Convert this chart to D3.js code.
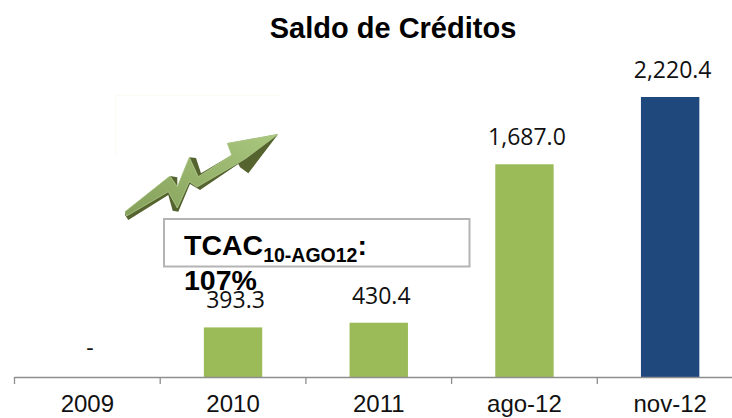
<!DOCTYPE html>
<html><head><meta charset="utf-8">
<script src="https://cdnjs.cloudflare.com/ajax/libs/d3/7.8.5/d3.min.js"></script>
<style>html,body{margin:0;padding:0;background:#fff}svg{display:block}</style>
</head><body><svg id="c" width="732" height="418"></svg>
<script>
const categories = ["2009","2010","2011","ago-12","nov-12"];
const values = [0,393.3,430.4,1687.0,2220.4];
const valueLabels = ["-","393.3","430.4","1,687.0","2,220.4"];
const barColors = ["#9BBB59","#9BBB59","#9BBB59","#9BBB59","#1F497D"];
const title = "Saldo de Créditos";
const arrowOutline = [[125,211.7],[170,176],[177.3,177.3],[177.3,186.7],[189.3,157.3],[196,158],[201,173.3],[231.7,155],[227.3,143.3],[278.3,134],[248.3,173.3],[240,167.3],[238.3,164],[200,190],[190,184],[178.3,211.7],[172.7,210.7],[168.3,195],[128.3,220],[125,215]];
const arrowFace = [[125,211.7],[170,176],[177.3,186.7],[189.3,157.3],[198.3,176.7],[231.7,155],[227.3,143.3],[278,134.3],[246,158.3],[238.3,163],[197,187],[189.3,181.7],[177.3,208],[168.3,191.7],[126.7,216]];

const svg = d3.select("#c");
const xTicks = d3.scaleBand().domain(categories).range([14.5,743]);
const y = d3.scaleLinear().domain([0,2220.4]).range([377,97]);
const cx = d => xTicks(d)+xTicks.bandwidth()/2;

svg.append("text").attr("x",393).attr("y",38).attr("text-anchor","middle")
  .attr("font-family","Liberation Sans").attr("font-weight","bold").attr("font-size",29).attr("fill","#000").text(title);

svg.selectAll("rect.bar").data(values).join("rect").attr("class","bar")
  .attr("x",(d,i)=>cx(categories[i])-29.2).attr("width",58.4)
  .attr("y",d=>y(d)).attr("height",d=>y(0)-y(d)).attr("fill",(d,i)=>barColors[i]);

svg.append("line").attr("x1",14.5).attr("x2",732).attr("y1",377.5).attr("y2",377.5).attr("stroke","#8e8e8e").attr("stroke-width",1.5);
svg.selectAll("line.tick").data(categories).join("line").attr("class","tick")
  .attr("x1",d=>xTicks(d)).attr("x2",d=>xTicks(d)).attr("y1",377).attr("y2",384).attr("stroke","#8e8e8e").attr("stroke-width",1.3);

svg.selectAll("text.cat").data(categories).join("text").attr("class","cat")
  .attr("x",d=>cx(d)).attr("y",412).attr("text-anchor","middle")
  .attr("font-family","Liberation Sans").attr("font-size",24).attr("fill","#111").text(d=>d);

// decorative rising arrow
svg.append("path").attr("d","M115.5,155V95.5H280").attr("fill","none").attr("stroke","#fafcf2");
const line = d3.line();
svg.append("path").attr("d",line(arrowOutline)+"Z").attr("fill","#55632f");
const g = svg.append("defs").append("linearGradient").attr("id","ag").attr("x1","0").attr("y1","1").attr("x2","1").attr("y2","0");
g.append("stop").attr("offset","0").attr("stop-color","#84a05a");
g.append("stop").attr("offset","1").attr("stop-color","#aac77e");
svg.append("path").attr("d",line(arrowFace)+"Z").attr("fill","url(#ag)").attr("stroke","#b9d295").attr("stroke-width",0.7);

// TCAC box
svg.append("rect").attr("x",164).attr("y",219).attr("width",305.5).attr("height",47.5).attr("fill","#fff").attr("stroke","#b4b4b4").attr("stroke-width",2);
const t = svg.append("text").attr("x",184).attr("y",255).attr("font-family","Liberation Sans").attr("font-weight","bold").attr("fill","#000").attr("font-size",28.5);
t.append("tspan").text("TCAC");
t.append("tspan").attr("font-size",19.5).attr("dy",7).text("10-AGO12");
t.append("tspan").attr("dy",-7).text(":");
svg.append("text").attr("x",184).attr("y",290).attr("font-family","Liberation Sans").attr("font-weight","bold").attr("fill","#000").attr("font-size",28.5).text("107%");

// value labels sit over the callout text, as in the reference
svg.selectAll("text.val").data(values).join("text").attr("class","val")
  .attr("x",(d,i)=>cx(categories[i])+2.5)
  .attr("y",(d,i)=>y(d)-(i===0?21:19)).attr("text-anchor","middle")
  .attr("font-family","Open Sans").attr("font-size",23).attr("fill","#111").text((d,i)=>valueLabels[i]);
</script></body></html>
